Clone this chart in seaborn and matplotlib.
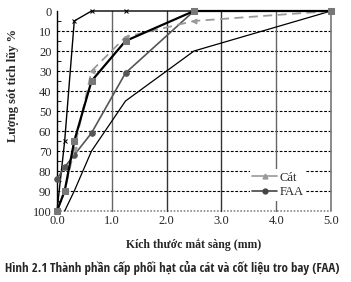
import matplotlib
matplotlib.use("Agg")
import matplotlib.pyplot as plt
from matplotlib import font_manager
import seaborn as sns
import pandas as pd
from matplotlib.lines import Line2D

# Data (sieve size mm, cumulative retained %)
lim1_x = [0.0, 0.14, 0.315, 0.63, 1.25, 2.5, 5.0]
lim1_y = [100, 65, 5, 0, 0, 0, 0]
lim2_x = [0.14, 0.315, 0.63, 1.25, 2.5, 5.0]
lim2_y = [100, 90, 70, 45, 20, 0]
lim3_x = [0.0, 0.14, 0.315, 0.63, 1.25, 2.5, 5.0]
lim3_y = [100, 90, 65, 35, 15, 0, 0]
cat_x = [0.0, 0.14, 0.315, 0.63, 1.25, 2.5, 5.0]
cat_y = [100, 90, 69, 30, 13, 5, 0]
faa_x = [0.0, 0.14, 0.315, 0.63, 1.25, 2.5, 5.0]
faa_y = [84, 78, 72, 61, 31, 0, 0]

x_ticks = [0, 1, 2, 3, 4, 5]
y_ticks = [0, 10, 20, 30, 40, 50, 60, 70, 80, 90, 100]

sns.set_style("white")
plt.rcParams['font.family'] = ['Liberation Serif', 'DejaVu Serif']

fig = plt.figure(figsize=(3.51, 2.82), dpi=100)
ax = fig.add_axes([57/351, 1-211/282, 274/351, 200/282])

# grid
for yv in y_ticks[1:-1]:
    ax.axhline(yv, color='black', lw=0.8, ls=(0, (2.5, 1.5)), zorder=0)
ax.axhline(100, color='#888888', lw=1.2, ls=(0, (1, 1)), zorder=0)
for xv in [1, 2, 3, 4]:
    ax.axvline(xv, color='#333333' if xv in (2, 3) else '#666666', lw=1.0, zorder=0)
ax.axvline(5, color='#777777', lw=1.2, zorder=0)

def draw(x, y, **kw):
    df = pd.DataFrame({'x': x, 'y': y})
    sns.lineplot(data=df, x='x', y='y', ax=ax, sort=False, estimator=None,
                 legend=False, **kw)

draw(lim2_x, lim2_y, color='black', lw=0.9, zorder=3)
draw(lim1_x, lim1_y, color='black', lw=1.0, marker='x', markersize=3,
     markeredgecolor='black', zorder=3)
draw(faa_x, faa_y, color='#555555', lw=1.2, marker='o', markersize=4,
     markeredgecolor='#555555', zorder=4)
draw(cat_x, cat_y, color='#999999', lw=1.3, ls=(0, (5, 3)), marker='<',
     markersize=3.5, markeredgecolor='#999999', zorder=4)
draw(lim3_x, lim3_y, color='black', lw=1.6, marker='s', markersize=4,
     markerfacecolor='#777777', markeredgecolor='#777777', zorder=5)

for l in ax.lines:
    l.set_clip_on(False)

ax.set_xlim(0, 5)
ax.set_ylim(100, 0)
ax.set_xticks(x_ticks)
ax.set_xticklabels([f"{v:.1f}" for v in x_ticks])
ax.set_yticks(y_ticks)
ax.set_yticks(range(5, 100, 10), minor=True)
ax.tick_params(axis='both', labelsize=9, length=0, pad=3)
ax.tick_params(axis='y', which='both', direction='in', left=True, length=3, width=0.8, pad=4)
ax.tick_params(axis='y', which='major', length=0)
for t in ax.get_xticklabels() + ax.get_yticklabels():
    t.set_family(['Liberation Serif', 'DejaVu Serif'])

for s in ['top', 'right', 'bottom']:
    ax.spines[s].set_visible(False)
ax.spines['left'].set_color('black')
ax.spines['left'].set_linewidth(1.0)

ax.set_xlabel("Kích thước mắt sàng (mm)", fontsize=8.5, fontweight='bold', labelpad=8)
ax.set_ylabel("Lượng sót tích lũy %", fontsize=9, fontweight='bold')
ax.yaxis.set_label_coords(-38/274, 0.63)

handles = [
    Line2D([], [], color='#999999', lw=1.2, marker='^', markersize=3.5),
    Line2D([], [], color='#444444', lw=1.2, marker='o', markersize=3.5),
]
leg = ax.legend(handles, ["Cát", "FAA"], loc='upper left',
                bbox_to_anchor=(0.68, 0.24), frameon=True, fontsize=9,
                handlelength=2.0, handletextpad=0.2, labelspacing=0.2,
                borderpad=0.2, framealpha=1)
leg.get_frame().set_edgecolor('white')
leg.get_frame().set_linewidth(0)

# caption, fitted to the reference width
names = {f.name for f in font_manager.fontManager.ttflist}
capfam = None
for cand in ['Liberation Sans Narrow', 'DejaVu Sans Condensed', 'Open Sans Condensed',
             'Roboto Condensed', 'Liberation Sans']:
    if cand in names:
        capfam = [cand, 'DejaVu Sans']
        break
if capfam is None:
    capfam = ['DejaVu Sans']

cy = 1 - 268/282
size = 9.5
renderer = fig.canvas.get_renderer()
for _ in range(30):
    t1 = fig.text(5/351, cy, "Hình 2.1", fontsize=size, fontweight='bold',
                  family=capfam, va='center', ha='left')
    bb1 = t1.get_window_extent(renderer)
    t2 = fig.text((bb1.x1 + 3)/351, cy,
                  "Thành phần cấp phối hạt của cát và cốt liệu tro bay (FAA)",
                  fontsize=size, family=capfam, va='center', ha='left')
    bb2 = t2.get_window_extent(renderer)
    if bb2.x1 <= 346 or size < 5:
        break
    t1.remove(); t2.remove()
    size -= 0.25

fig.savefig("out.png", dpi=100)
